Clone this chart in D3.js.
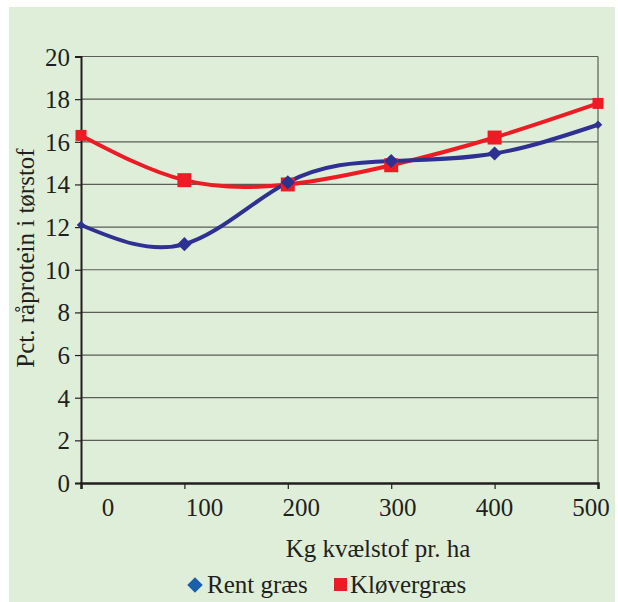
<!DOCTYPE html>
<html>
<head>
<meta charset="utf-8">
<script src="https://cdn.jsdelivr.net/npm/d3@7"></script>
</head>
<body style="margin:0">
<div id="chart"></div>
<script>
// data
var categories = [0, 100, 200, 300, 400, 500];
var rentGraes = [12.1, 11.2, 14.1, 15.1, 15.45, 16.8];
var kloevergraes = [16.3, 14.2, 14.0, 14.9, 16.2, 17.8];
var yTicks = [0, 2, 4, 6, 8, 10, 12, 14, 16, 18, 20];
var seriesNames = ['Rent græs', 'Kløvergræs'];

var width = 618,
    height = 602,
    serif = '"Liberation Serif"',
    ink = '#231f20';

var svg = d3.select('#chart')
    .append('svg')
        .attr('width', width)
        .attr('height', height);

// green panel
svg.append('rect')
    .attr('x', 9)
    .attr('y', 7)
    .attr('width', 606)
    .attr('height', 595)
    .attr('fill', '#dfeed9');

var x = d3.scalePoint()
    .domain(categories)
    .range([81, 598]);

// labels sit offset from the ticks in the original
var xLabel = d3.scalePoint()
    .domain(categories)
    .range([108, 591]);

var y = d3.scaleLinear()
    .domain([0, 20])
    .range([483, 56.5]);

// gridlines
svg.append('g')
    .selectAll('line')
    .data(yTicks.filter(function (d) { return d > 0; }))
    .enter()
    .append('line')
        .attr('x1', 81)
        .attr('x2', 598)
        .attr('y1', function (d) { return y(d); })
        .attr('y2', function (d) { return y(d); })
        .attr('stroke', '#5a5d57')
        .attr('stroke-width', 1.2);

// right border of plot area
svg.append('line')
    .attr('x1', 598).attr('x2', 598)
    .attr('y1', y(20)).attr('y2', y(0))
    .attr('stroke', '#5a5d57')
    .attr('stroke-width', 1.2);

// y axis
var yAxis = d3.axisLeft(y)
    .tickValues(yTicks)
    .tickSize(6)
    .tickPadding(5);
var gy = svg.append('g')
    .attr('transform', 'translate(81,0)')
    .call(yAxis);
gy.select('.domain').attr('stroke', ink).attr('stroke-width', 2);
gy.selectAll('.tick line').attr('stroke', ink).attr('stroke-width', 1.2);
gy.selectAll('.tick text')
    .style('font-family', serif)
    .style('font-size', '25px')
    .attr('fill', ink)
    .attr('dy', '0.34em');

// x axis (ticks only, labels drawn with their own scale)
var xAxis = d3.axisBottom(x)
    .tickSize(6)
    .tickFormat('');
var gx = svg.append('g')
    .attr('transform', 'translate(0,' + y(0) + ')')
    .call(xAxis);
gx.select('.domain').attr('stroke', ink).attr('stroke-width', 2.5);
gx.selectAll('.tick line').attr('stroke', ink).attr('stroke-width', 1.2);

svg.append('g')
    .selectAll('text')
    .data(categories)
    .enter()
    .append('text')
        .attr('x', function (d) { return xLabel(d); })
        .attr('y', 516)
        .attr('text-anchor', 'middle')
        .attr('fill', ink)
        .style('font-family', serif)
        .style('font-size', '25px')
        .text(function (d) { return d; });

// axis titles
svg.append('text')
    .attr('transform', 'translate(34,258) rotate(-90)')
    .attr('text-anchor', 'middle')
    .attr('fill', ink)
    .style('font-family', serif)
    .style('font-size', '25px')
    .text('Pct. råprotein i tørstof');

svg.append('text')
    .attr('x', 378)
    .attr('y', 557)
    .attr('text-anchor', 'middle')
    .attr('fill', ink)
    .style('font-family', serif)
    .style('font-size', '25px')
    .text('Kg kvælstof pr. ha');

// smoothed lines
var line = d3.line()
    .x(function (d, i) { return x(categories[i]); })
    .y(function (d) { return y(d); })
    .curve(d3.curveNatural);

var blue = '#2e3192',
    red = '#ed1c24';

svg.append('path')
    .datum(kloevergraes)
    .attr('d', line)
    .attr('fill', 'none')
    .attr('stroke', red)
    .attr('stroke-width', 4);

svg.append('path')
    .datum(rentGraes)
    .attr('d', line)
    .attr('fill', 'none')
    .attr('stroke', blue)
    .attr('stroke-width', 4);

// markers: end points are drawn smaller, as in the original
function markSize(i, n, big, small) {
    return (i === 0 || i === n - 1) ? small : big;
}

svg.append('g')
    .selectAll('rect')
    .data(kloevergraes)
    .enter()
    .append('rect')
        .attr('x', function (d, i) { return x(categories[i]) - markSize(i, kloevergraes.length, 14, 11) / 2; })
        .attr('y', function (d, i) { return y(d) - markSize(i, kloevergraes.length, 14, 11) / 2; })
        .attr('width', function (d, i) { return markSize(i, kloevergraes.length, 14, 11); })
        .attr('height', function (d, i) { return markSize(i, kloevergraes.length, 14, 11); })
        .attr('fill', red);

svg.append('g')
    .selectAll('path')
    .data(rentGraes)
    .enter()
    .append('path')
        .attr('transform', function (d, i) {
            return 'translate(' + x(categories[i]) + ',' + y(d) + ') rotate(45)';
        })
        .attr('d', function (d, i) {
            var s = markSize(i, rentGraes.length, 10, 6);
            return 'M' + (-s / 2) + ',' + (-s / 2) + 'h' + s + 'v' + s + 'h' + (-s) + 'Z';
        })
        .attr('fill', blue);

// legend
var legend = svg.append('g');
legend.append('path')
    .attr('transform', 'translate(195,585) rotate(45)')
    .attr('d', 'M-5.5,-5.5h11v11h-11Z')
    .attr('fill', '#1b5faa');
legend.append('text')
    .attr('x', 207)
    .attr('y', 593)
    .attr('fill', ink)
    .style('font-family', serif)
    .style('font-size', '25px')
    .text(seriesNames[0]);
legend.append('rect')
    .attr('x', 334)
    .attr('y', 578)
    .attr('width', 13)
    .attr('height', 13)
    .attr('fill', red);
legend.append('text')
    .attr('x', 350)
    .attr('y', 593)
    .attr('fill', ink)
    .style('font-family', serif)
    .style('font-size', '25px')
    .text(seriesNames[1]);
</script>
</body>
</html>
